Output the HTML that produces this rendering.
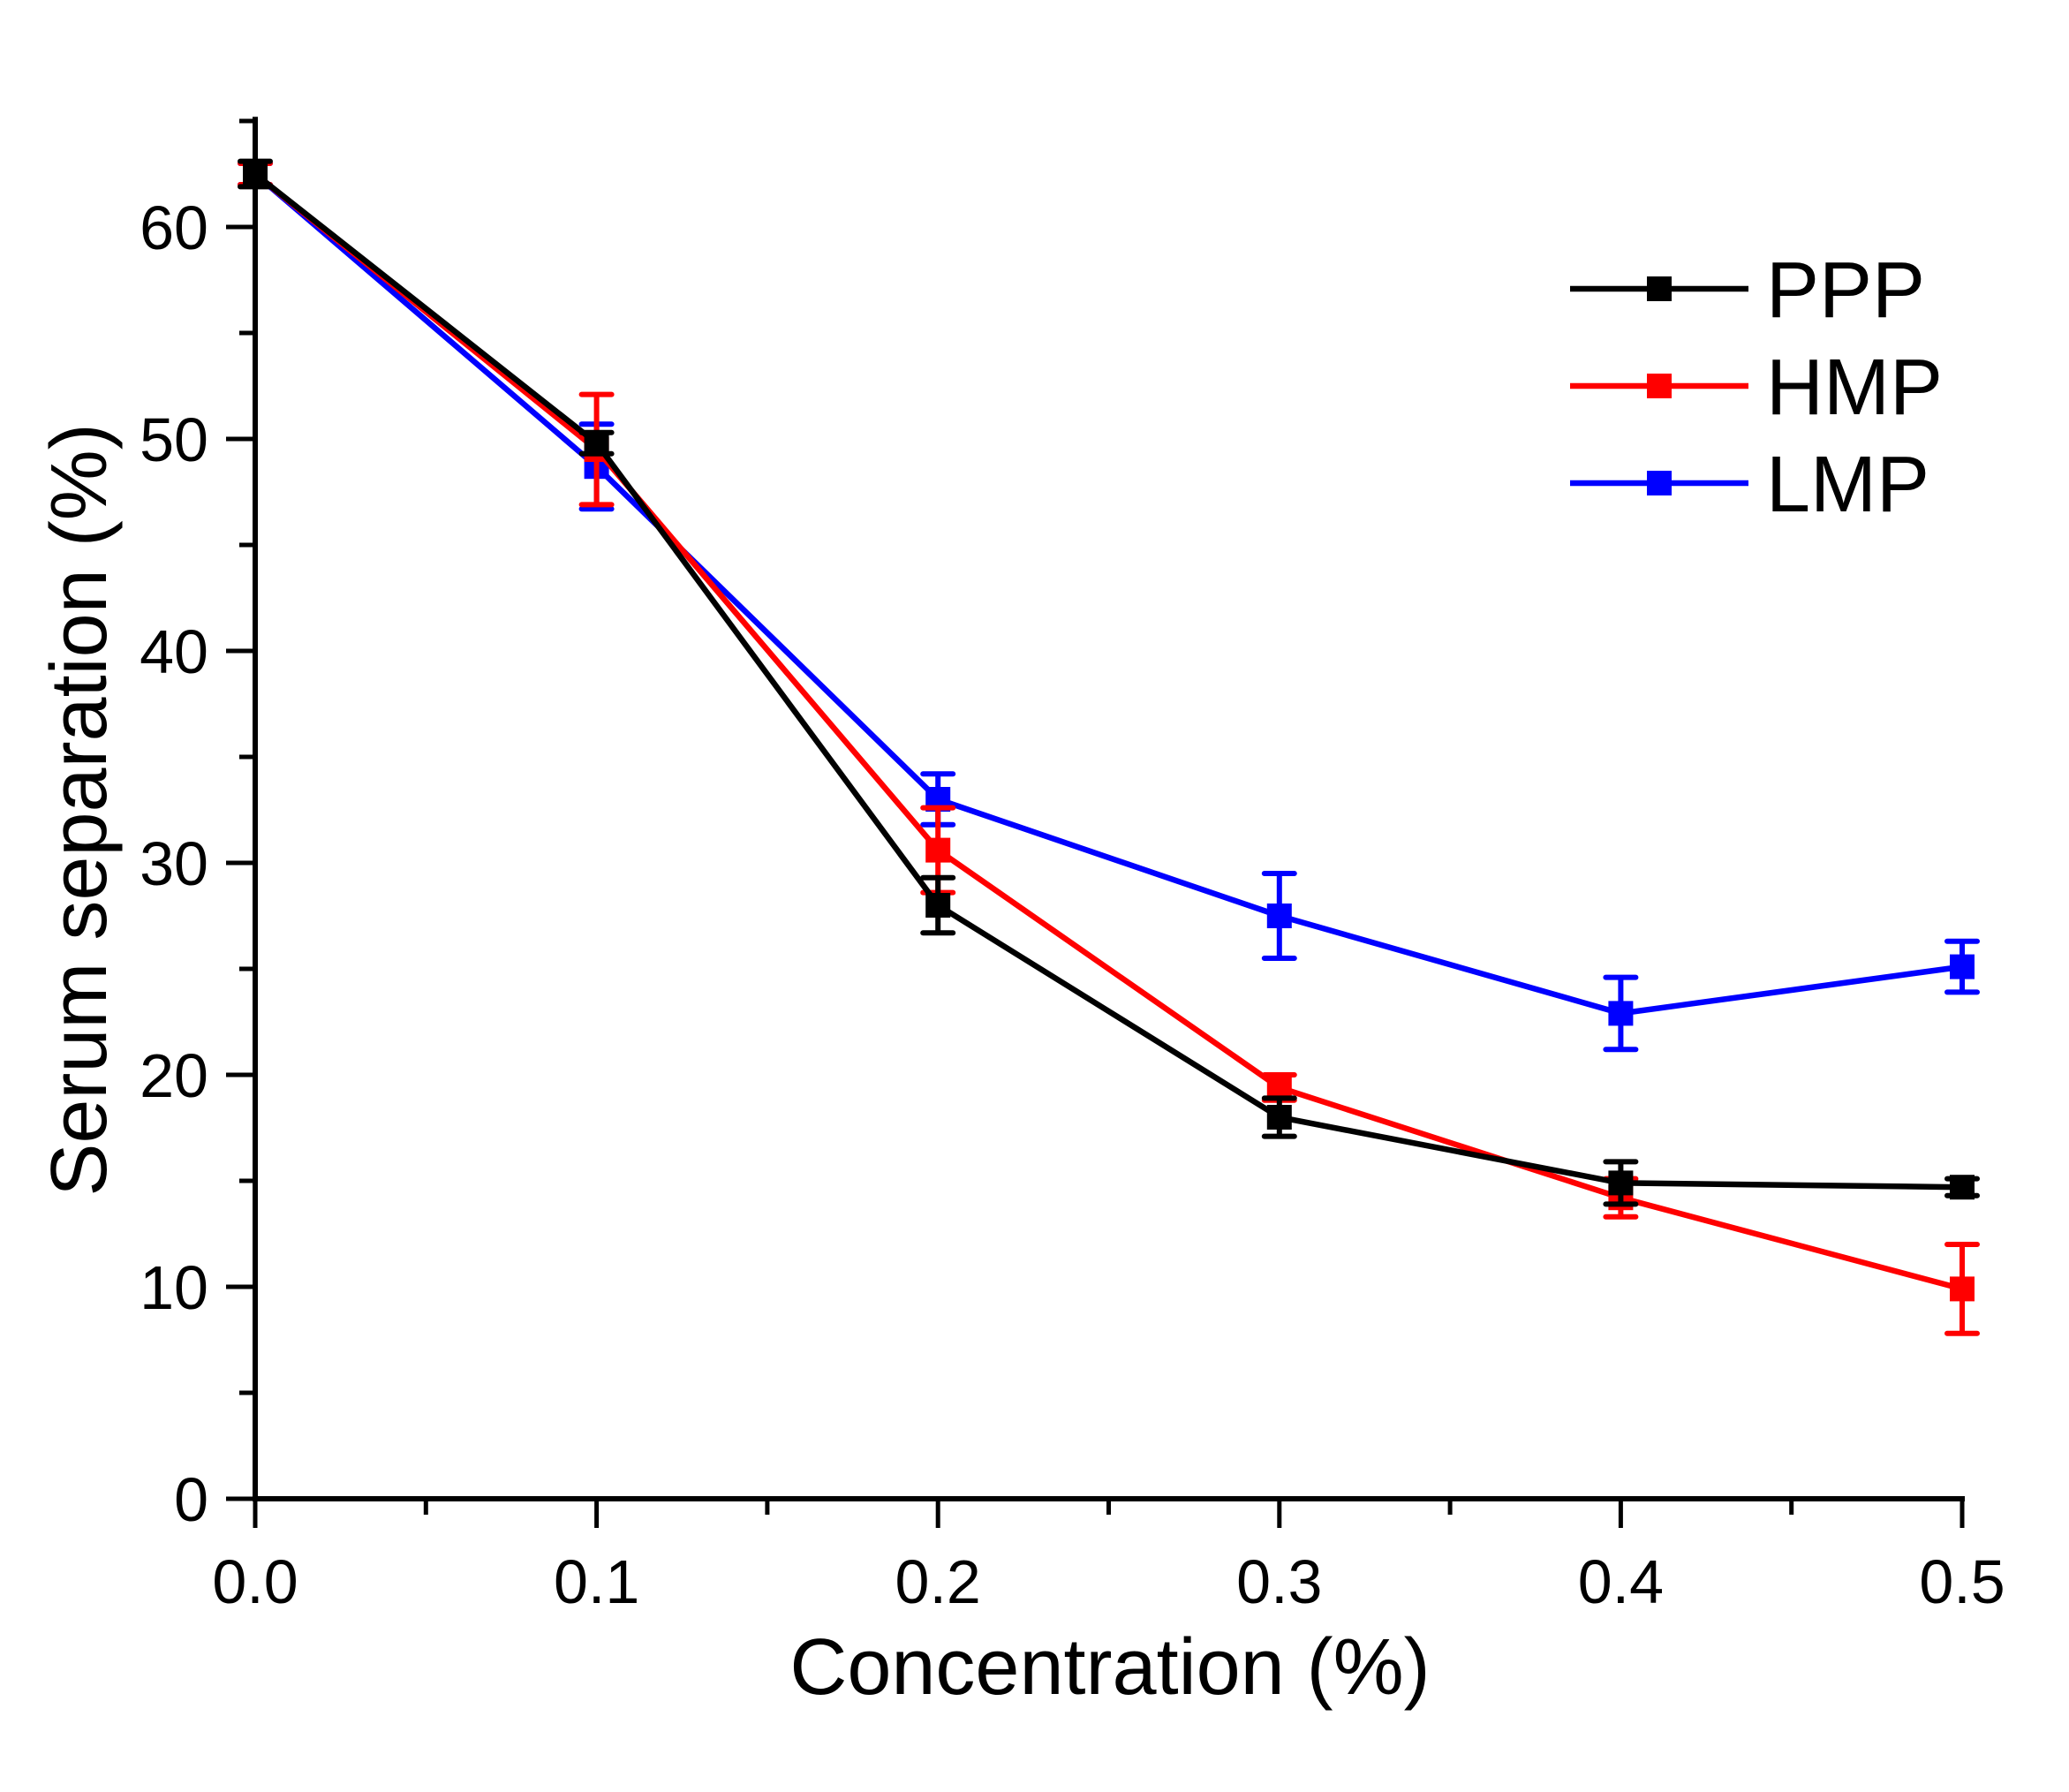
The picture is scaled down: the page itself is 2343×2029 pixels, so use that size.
<!DOCTYPE html>
<html><head><meta charset="utf-8"><style>
html,body{margin:0;padding:0;background:#fff;}
svg{display:block;font-family:"Liberation Sans",Arial,sans-serif;}
</style></head><body>
<svg id="chart" width="2343" height="2029" viewBox="0 0 2343 2029"></svg>
<script>
const xValues=[0,0.1,0.2,0.3,0.4,0.5];
const pppValues=[62.5,49.8,28.0,18.0,14.9,14.7];
const pppErrors=[0.6,0.5,1.3,0.9,1.0,0.4];
const hmpValues=[62.5,49.5,30.6,19.4,14.2,9.9];
const hmpErrors=[0.5,2.6,2.0,0.6,0.9,2.1];
const lmpValues=[62.5,48.7,33.0,27.5,22.9,25.1];
const lmpErrors=[0.5,2.0,1.2,2.0,1.7,1.2];
const xTickLabels=["0.0","0.1","0.2","0.3","0.4","0.5"];
const yTickLabels=["0","10","20","30","40","50","60"];
const seriesNames=["PPP","HMP","LMP"];

const NS="http://www.w3.org/2000/svg";
const svg=document.getElementById('chart');
const X0=289,X1=2222,Y0=1697,Y60=257;
function sx(v){return X0+(X1-X0)*v/0.5;}
function sy(v){return Y0-(Y0-Y60)*v/60;}
function mk(tag,attrs,parent){const e=document.createElementNS(NS,tag);for(const k in attrs)e.setAttribute(k,attrs[k]);(parent||svg).appendChild(e);return e;}

const axes=mk('g',{});


let l=mk('line',{x1:X0,y1:sy(65.2),x2:X0,y2:Y0+3,stroke:'#000','stroke-width':6},axes);


l=mk('line',{x1:X0-3,y1:Y0,x2:X1+3,y2:Y0,stroke:'#000','stroke-width':6},axes);


for(let i=0;i<=13;i++){const v=i*5;if(v>65)break;const y=sy(v);const major=i%2===0;
 const t=mk('line',{x1:X0-(major?33:18),y1:y,x2:X0,y2:y,stroke:'#000','stroke-width':5},axes);
 
 
}
yTickLabels.forEach((s,i)=>{const t=mk('text',{x:236,y:sy(Number(s))+25,'text-anchor':'end','font-size':70},axes);t.textContent=s;
 
 });
for(let i=0;i<=10;i++){const x=sx(i*0.05);const major=i%2===0;
 const t=mk('line',{x1:x,y1:Y0,x2:x,y2:Y0+(major?33:18),stroke:'#000','stroke-width':5},axes);
 
 
}
xTickLabels.forEach((s,i)=>{const t=mk('text',{x:sx(xValues[i]),y:1815,'text-anchor':'middle','font-size':70},axes);t.textContent=s;
 
 });
let tt=mk('text',{x:1257,y:1918,'text-anchor':'middle','font-size':90},axes);tt.textContent='Concentration (%)';


tt=mk('text',{x:0,y:0,'text-anchor':'middle','font-size':90,transform:'translate(120,917) rotate(-90)'},axes);tt.textContent='Serum separation (%)';



function drawSeries(name,vals,errs,color){
 const g=mk('g',{});
 
 
 const pts=vals.map((v,i)=>sx(xValues[i])+','+sy(v)).join(' ');
 const pl=mk('polyline',{points:pts,fill:'none',stroke:color,'stroke-width':6.5,'stroke-linejoin':'round'},g);
 
 
 vals.forEach((v,i)=>{const x=sx(xValues[i]);const yt=sy(v+errs[i]),yb=sy(v-errs[i]);
  const eb=mk('path',{d:`M${x},${yt}V${yb}M${x-17},${yt}H${x+17}M${x-17},${yb}H${x+17}`,stroke:color,'stroke-width':6,fill:'none','stroke-linecap':'round'},g);
  
  
  const m=mk('rect',{x:x-14,y:sy(v)-14,width:28,height:28,fill:color},g);
  
  
 });
}
drawSeries('LMP',lmpValues,lmpErrors,'#0000ff');
drawSeries('HMP',hmpValues,hmpErrors,'#ff0000');
drawSeries('PPP',pppValues,pppErrors,'#000000');

const colors=['#000000','#ff0000','#0000ff'];
const leg=mk('g',{});


seriesNames.forEach((n,i)=>{const y=327+i*110;
 const e=mk('g',{},leg);
 
 
 mk('line',{x1:1778,y1:y,x2:1980,y2:y,stroke:colors[i],'stroke-width':6.5},e);
 mk('rect',{x:1865,y:y-14,width:28,height:28,fill:colors[i]},e);
 const t=mk('text',{x:2000,y:y+32,'font-size':90},e);t.textContent=n;
});
</script>
</body></html>
